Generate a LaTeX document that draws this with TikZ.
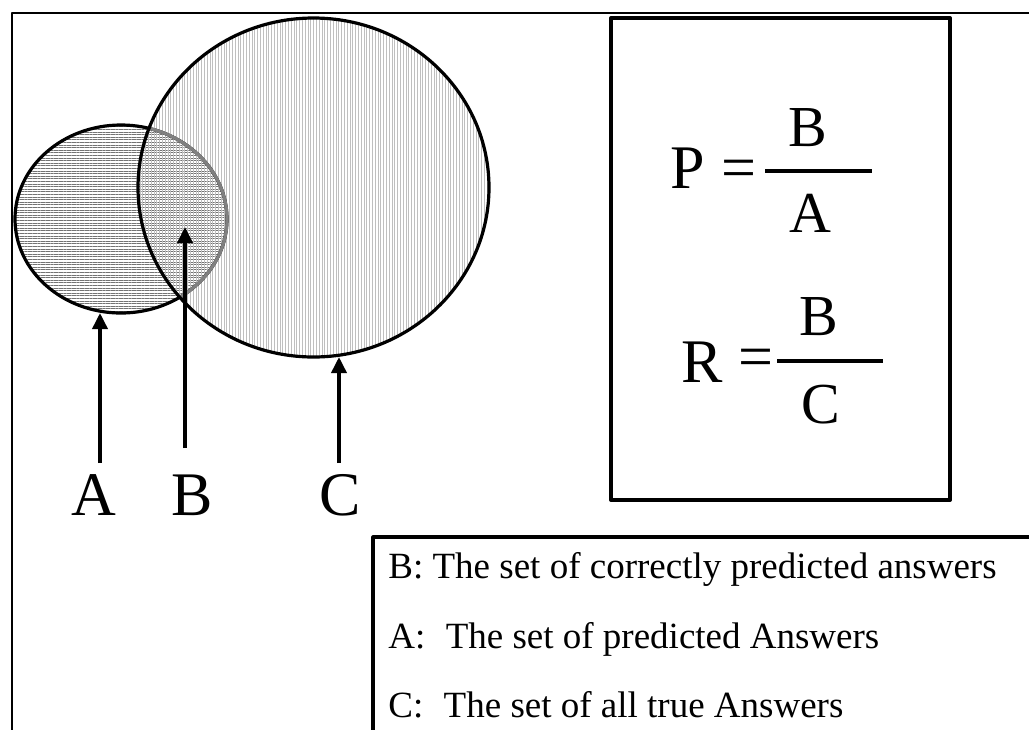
\documentclass[tikz,border=0pt]{standalone}
\usepackage{fontspec}
\setmainfont{Liberation Serif}
\usetikzlibrary{arrows.meta,patterns.meta}
\tikzset{
  every picture/.style={line join=round,
    >={Triangle[length=8pt,width=7.5pt]}},
  % Rahmen
  outer/.style={line width=1pt},
  fbox/.style={line width=2pt},
  legbox/.style={line width=1.6pt},
  % Mengen
  setA/.style={pattern={Lines[angle=0,distance=1.3pt,line width=0.45pt]}, pattern color=black!55},
  setC/.style={pattern={Lines[angle=90,distance=1.4pt,line width=0.35pt]}, pattern color=black!25},
  rim/.style={line width=1.6pt},
  ptr/.style={line width=1.8pt, ->},
  % Schrift
  big/.style={font=\fontsize{31}{36}\selectfont, inner sep=0pt, anchor=base},
  frac/.style={font=\fontsize{29}{34}\selectfont, inner sep=0pt, anchor=base},
  fracbar/.style={line width=2pt},
  legtext/.style={font=\fontsize{18.5}{22}\selectfont, anchor=base west, inner sep=0pt},
}
\begin{document}
\begin{tikzpicture}[x=0.5pt,y=-0.5pt]
  \useasboundingbox (0,0) rectangle (1029,730);
  \def\rAx{106} \def\rAy{94}
  \def\rCx{175.5} \def\rCy{169.5}
  % aeusserer Rahmen (rechts und unten abgeschnitten)
  \draw[outer] (1029,13) -- (12,13) -- (12,730);
  % Mengen A und C
  \coordinate (cA) at (121,219);
  \coordinate (cC) at (313.5,187.5);
  \path[setA] (cA) ellipse [x radius=\rAx, y radius=\rAy];
  \path[setC] (cC) ellipse [x radius=\rCx, y radius=\rCy];
  \draw[rim] (cA) ellipse [x radius=\rAx, y radius=\rAy];
  \begin{scope}
    \clip (cC) ellipse [x radius=\rCx, y radius=\rCy];
    \draw[rim, black!50] (cA) ellipse [x radius=\rAx, y radius=\rAy];
  \end{scope}
  \draw[rim] (cC) ellipse [x radius=\rCx, y radius=\rCy];
  % Beschriftung mit Pfeilen
  \node[big] (labA) at (94,515) {A};
  \node[big] (labB) at (192,515) {B};
  \node[big] (labC) at (340,515) {C};
  \coordinate (footA) at (100,463);
  \coordinate (footB) at (185,448);
  \coordinate (footC) at (339,463);
  \coordinate (tipA) at (100,313);
  \coordinate (tipB) at (185,227);
  \coordinate (tipC) at (339,357);
  \draw[ptr] (footA) -- (tipA);
  \draw[ptr] (footB) -- (tipB);
  \draw[ptr] (footC) -- (tipC);
  % Formeln
  \draw[fbox] (611,18) rectangle (950,500);
  \node[big] (P) at (688,188) {P};
  \node[big] (eqP) at (739,188) {=};
  \node[frac] (numP) at (808,146) {B};
  \node[frac] (denP) at (810,232) {A};
  \draw[fracbar] (765,171) -- (872,171);
  \node[big] (R) at (702,382) {R};
  \node[big] (eqR) at (756,377) {=};
  \node[frac] (numR) at (819,335) {B};
  \node[frac] (denR) at (821,423) {C};
  \draw[fracbar] (777,361) -- (883,361);
  % Legende
  \draw[legbox] (1029,537) -- (373,537) -- (373,730);
  \node[legtext] (lgB) at (388,578) {B: The set of correctly predicted answers};
  \node[legtext] (lgA) at (388,648) {A:\hspace{0.3em} The set of predicted Answers};
  \node[legtext] (lgC) at (388,717) {C:\hspace{0.3em} The set of all true Answers};
\end{tikzpicture}
\end{document}
